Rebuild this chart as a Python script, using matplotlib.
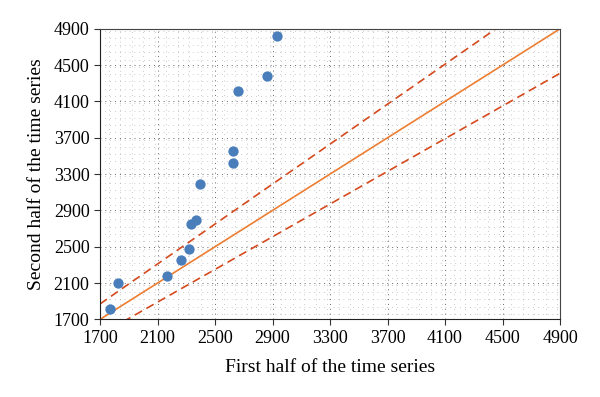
import numpy as np
import matplotlib
matplotlib.use('Agg')
import matplotlib.pyplot as plt
from matplotlib.ticker import MultipleLocator

# scatter data
first_half = [1770, 1825, 2166, 2263, 2319, 2333, 2370, 2396, 2623, 2627, 2660, 2864, 2934]
second_half = [1810, 2097, 2174, 2351, 2472, 2748, 2792, 3189, 3417, 3553, 4215, 4381, 4822]

lim = [1700, 4900]
ticks = list(range(1700, 4901, 400))
band = 0.10

plt.rcParams['font.family'] = ['Liberation Serif', 'DejaVu Serif']

fig = plt.figure(figsize=(6, 3.97), dpi=100)
ax = fig.add_axes([0.1667, 0.1955, 0.7667, 0.732])

ax.xaxis.set_minor_locator(MultipleLocator(80))
ax.yaxis.set_minor_locator(MultipleLocator(80))
ax.grid(which='major', color='#666666', linestyle=(0, (1, 4)), linewidth=0.7)
ax.grid(which='minor', color='#999999', linestyle=(0, (1, 6)), linewidth=0.5)
ax.set_axisbelow(True)

xs = np.array(lim, dtype=float)
ax.plot(xs, xs, color='#ED7D31', lw=1.2, zorder=2)
ax.plot(xs, xs * (1 + band), color='#D54A1E', lw=1.2, ls=(0, (5, 3)), zorder=2)
ax.plot(xs, xs * (1 - band), color='#D54A1E', lw=1.2, ls=(0, (5, 3)), zorder=2)

ax.scatter(first_half, second_half, s=55, color='#4A7EBB', zorder=3, linewidths=0)

ax.set_xlim(lim)
ax.set_ylim(lim)
ax.set_xticks(ticks)
ax.set_yticks(ticks)
ax.tick_params(which='minor', length=0)
ax.tick_params(which='major', direction='out', length=4, labelsize=13, color='#333333')

for s in ['left', 'bottom']:
    ax.spines[s].set_color('#222222')
for s in ['top', 'right']:
    ax.spines[s].set_color('#444444')

ax.set_xlabel('First half of the time series', fontsize=14, labelpad=9)
ax.set_ylabel('Second half of the time series', fontsize=14, labelpad=6)

fig.savefig('out.png', dpi=100)
